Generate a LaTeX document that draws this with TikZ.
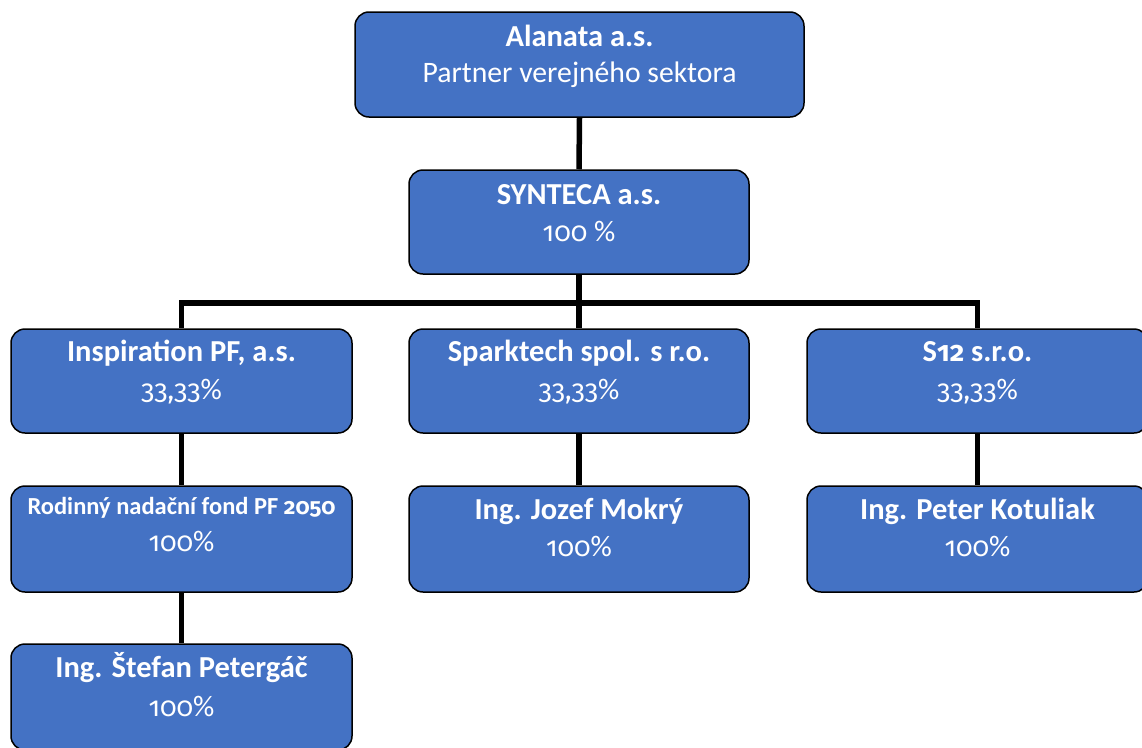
\documentclass[tikz,border=0pt]{standalone}
\usepackage{fontspec}
\setmainfont{Carlito}
\newfontfamily\numfont{Fira Sans}[Numbers=OldStyle, Scale=0.92]
\definecolor{boxblue}{HTML}{4472C4}
\tikzset{
  orgbox/.style={draw=black, line width=1.5pt, fill=boxblue, rounded corners=14pt, inner sep=0pt},
  ttl/.style={anchor=base, text=white, font=\fontsize{30.5}{33}\selectfont\bfseries, inner sep=0pt},
  ttlsmall/.style={anchor=base, text=white, font=\fontsize{24.5}{27}\selectfont\bfseries, inner sep=0pt},
  sub/.style={anchor=base, text=white, font=\fontsize{29.7}{32}\selectfont, inner sep=0pt},
  conn/.style={line width=5.5pt, black}
}
\newcommand{\onum}[1]{{\numfont #1}}
\begin{document}
\begin{tikzpicture}[x=1pt,y=-1pt]
\useasboundingbox (0,0) rectangle (1142,747);
\coordinate (busL) at (181.5,303);
\coordinate (busM) at (579,303);
\coordinate (busR) at (977.5,303);
% boxes
\node[orgbox, minimum width=449pt, minimum height=105pt] (alanata) at (579.5,64.5) {};
\node[orgbox, minimum width=340pt, minimum height=104pt] (synteca) at (579,222) {};
\node[orgbox, minimum width=341pt, minimum height=104pt] (insp) at (181.5,381) {};
\node[orgbox, minimum width=340pt, minimum height=104pt] (spark) at (579,381) {};
\node[orgbox, minimum width=341pt, minimum height=104pt] (s12) at (977.5,381) {};
\node[orgbox, minimum width=341pt, minimum height=106pt] (rodin) at (181.5,539) {};
\node[orgbox, minimum width=340pt, minimum height=106pt] (mokry) at (579,539) {};
\node[orgbox, minimum width=341pt, minimum height=106pt] (kotul) at (977.5,539) {};
\node[orgbox, minimum width=341pt, minimum height=106pt] (peterg) at (181.5,697) {};
% connectors
\draw[conn] (alanata.south) -- (synteca.north);
\draw[conn] (synteca.south) -- (busM);
\draw[conn, line cap=rect] (busL) -- (busR);
\draw[conn] (busL) -- (insp.north);
\draw[conn] (busM) -- (spark.north);
\draw[conn] (busR) -- (s12.north);
\draw[conn] (insp.south) -- (rodin.north);
\draw[conn] (rodin.south) -- (peterg.north);
\draw[conn] (spark.south) -- (mokry.north);
\draw[conn] (s12.south) -- (kotul.north);
% texts
\node[ttl] (t1a) at ([yshift=-35pt]alanata.north) {Alanata a.s.};
\node[sub] (t1b) at ([yshift=-71pt]alanata.north) {Partner verejného sektora};
\node[ttl] (t2a) at ([yshift=-35pt]synteca.north) {SYNTECA a.s.};
\node[sub] (t2b) at ([yshift=-72pt]synteca.north) {\onum{100} \%};
\node[ttl] (t3a) at ([yshift=-33pt]insp.north) {Inspiration PF, a.s.};
\node[sub] (t3b) at ([yshift=-71pt]insp.north) {\onum{33,33}\%};
\node[ttl] (t4a) at ([yshift=-33pt]spark.north) {Sparktech spol. s r.o.};
\node[sub] (t4b) at ([yshift=-71pt]spark.north) {\onum{33,33}\%};
\node[ttl] (t5a) at ([yshift=-33pt]s12.north) {S\onum{\bfseries 12} s.r.o.};
\node[sub] (t5b) at ([yshift=-71pt]s12.north) {\onum{33,33}\%};
\node[ttlsmall] (t6a) at ([yshift=-29pt]rodin.north) {Rodinný nadační fond PF \onum{\bfseries 2050}};
\node[sub] (t6b) at ([yshift=-66pt]rodin.north) {\onum{100}\%};
\node[ttl] (t7a) at ([yshift=-34pt]mokry.north) {Ing. Jozef Mokrý};
\node[sub] (t7b) at ([yshift=-71pt]mokry.north) {\onum{100}\%};
\node[ttl] (t8a) at ([yshift=-34pt]kotul.north) {Ing. Peter Kotuliak};
\node[sub] (t8b) at ([yshift=-71pt]kotul.north) {\onum{100}\%};
\node[ttl] (t9a) at ([yshift=-34pt]peterg.north) {Ing. Štefan Petergáč};
\node[sub] (t9b) at ([yshift=-73pt]peterg.north) {\onum{100}\%};
\end{tikzpicture}
\end{document}
